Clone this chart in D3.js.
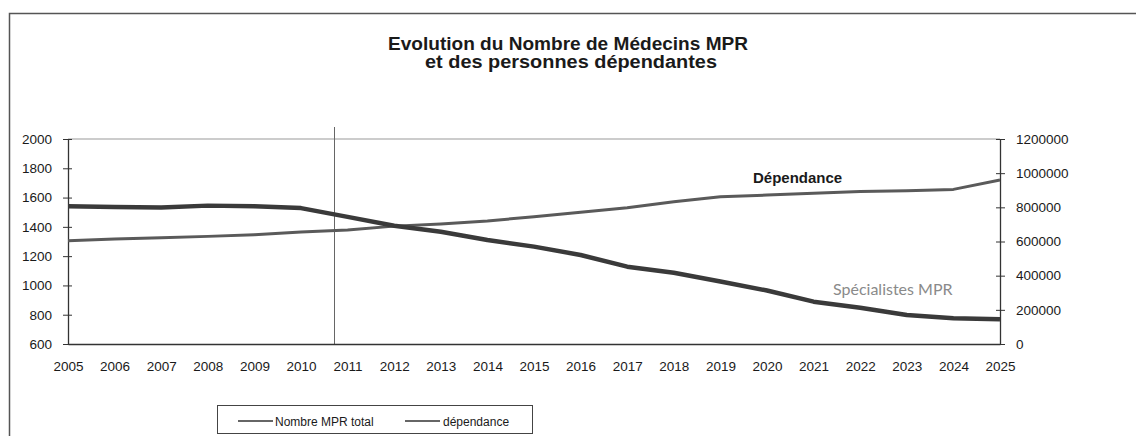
<!DOCTYPE html>
<html lang="fr">
<head>
<meta charset="utf-8">
<title>Evolution du Nombre de Médecins MPR</title>
<script src="https://d3js.org/d3.v7.min.js"></script>
<style>
  body { margin: 0; background: #fff; }
  svg text { font-family: "Liberation Sans", Arial, sans-serif; fill: #1a1a1a; }
</style>
</head>
<body>
<svg id="chart" width="1136" height="436"></svg>
<script>
// donnees
const annees = d3.range(2005, 2026).map(String);
const nombreMPR = [1540, 1535, 1532, 1545, 1540, 1528, 1468, 1408, 1366, 1310, 1265,
                   1208, 1128, 1087, 1027, 965, 889, 848, 798, 776, 769];
const dependance = [605000, 615000, 622000, 630000, 640000, 655000, 667000, 690000, 702000,
                    720000, 745000, 771000, 798000, 833000, 862000, 872000, 882000, 892000,
                    897000, 905000, 960000];
const ticksGauche = [600, 800, 1000, 1200, 1400, 1600, 1800, 2000];
const ticksDroite = [0, 200000, 400000, 600000, 800000, 1000000, 1200000];

const svg = d3.select("#chart");

// cadre exterieur
svg.append("path")
  .attr("d", "M9.5,436 V13.5 H1136")
  .attr("fill", "none").attr("stroke", "#555").attr("stroke-width", 1.5);

// titre
svg.append("text").attr("x", 568).attr("y", 50).attr("text-anchor", "middle")
  .attr("textLength", 360).attr("lengthAdjust", "spacingAndGlyphs")
  .style("font-size", "18px").style("font-weight", "bold")
  .text("Evolution du Nombre de Médecins MPR");
svg.append("text").attr("x", 571).attr("y", 68).attr("text-anchor", "middle")
  .attr("textLength", 292).attr("lengthAdjust", "spacingAndGlyphs")
  .style("font-size", "18px").style("font-weight", "bold")
  .text("et des personnes dépendantes");

const x = d3.scalePoint().domain(annees).range([68, 1000]);
const yG = d3.scaleLinear().domain([600, 2000]).range([344, 139]);
const yD = d3.scaleLinear().domain([0, 1200000]).range([344, 139]);

// grille du haut
svg.append("line").attr("x1", 68).attr("x2", 1000)
  .attr("y1", yG(2000)).attr("y2", yG(2000))
  .attr("stroke", "#999").attr("stroke-width", 1);

// ligne verticale (2011)
svg.append("line").attr("x1", 334.5).attr("x2", 334.5)
  .attr("y1", 127).attr("y2", 344)
  .attr("stroke", "#666").attr("stroke-width", 1);

// axes
const axeG = d3.axisLeft(yG).tickValues(ticksGauche).tickSizeInner(4).tickSizeOuter(0).tickPadding(12)
  .tickFormat(d3.format("d"));
const gG = svg.append("g").attr("transform", "translate(68,0)").call(axeG);
gG.selectAll(".tick line").attr("x1", -5).attr("x2", 4);

const axeD = d3.axisRight(yD).tickValues(ticksDroite).tickSizeInner(4).tickSizeOuter(0).tickPadding(12)
  .tickFormat(d3.format("d"));
const gD = svg.append("g").attr("transform", "translate(1000,0)").call(axeD);
gD.selectAll(".tick line").attr("x1", -4).attr("x2", 5);

const axeX = d3.axisBottom(x).tickSize(0).tickPadding(17);
const gX = svg.append("g").attr("transform", "translate(0,344)").call(axeX);

[gG, gD, gX].forEach(g => {
  g.select(".domain").attr("stroke", "#333").attr("stroke-width", 1.3);
  g.selectAll(".tick line").attr("stroke", "#333");
  g.selectAll("text").style("font-size", "13.5px").style("font-family", "Liberation Sans, Arial, sans-serif").attr("fill", "#1a1a1a");
});

// courbes
const ligneMPR = d3.line().x((d, i) => x(annees[i])).y(d => yG(d));
const ligneDep = d3.line().x((d, i) => x(annees[i])).y(d => yD(d));

svg.append("path").datum(dependance).attr("d", ligneDep)
  .attr("fill", "none").attr("stroke", "#5a5a5a").attr("stroke-width", 3)
  .attr("stroke-linejoin", "round");
svg.append("path").datum(nombreMPR).attr("d", ligneMPR)
  .attr("fill", "none").attr("stroke", "#3a3a3a").attr("stroke-width", 4.5)
  .attr("stroke-linejoin", "round");

// etiquettes
svg.append("text").attr("x", 753).attr("y", 183)
  .style("font-size", "15px").style("font-weight", "bold").text("Dépendance");
svg.append("text").attr("x", 833).attr("y", 295)
  .style("font-family", "Lato, 'Open Sans', sans-serif").style("font-size", "16px")
  .style("fill", "#8a8a8a").text("Spécialistes MPR");

// legende
const leg = svg.append("g");
leg.append("rect").attr("x", 217.5).attr("y", 405.5).attr("width", 315).attr("height", 28)
  .attr("fill", "#fff").attr("stroke", "#444").attr("stroke-width", 1);
const items = [
  { nom: "Nombre MPR total", x1: 238, x2: 273, tx: 275 },
  { nom: "dépendance", x1: 405, x2: 440, tx: 443 }
];
items.forEach(it => {
  leg.append("line").attr("x1", it.x1).attr("x2", it.x2).attr("y1", 421).attr("y2", 421)
    .attr("stroke", "#333").attr("stroke-width", 1.5);
  leg.append("text").attr("x", it.tx).attr("y", 425.5).style("font-size", "12px").text(it.nom);
});
</script>
</body>
</html>
